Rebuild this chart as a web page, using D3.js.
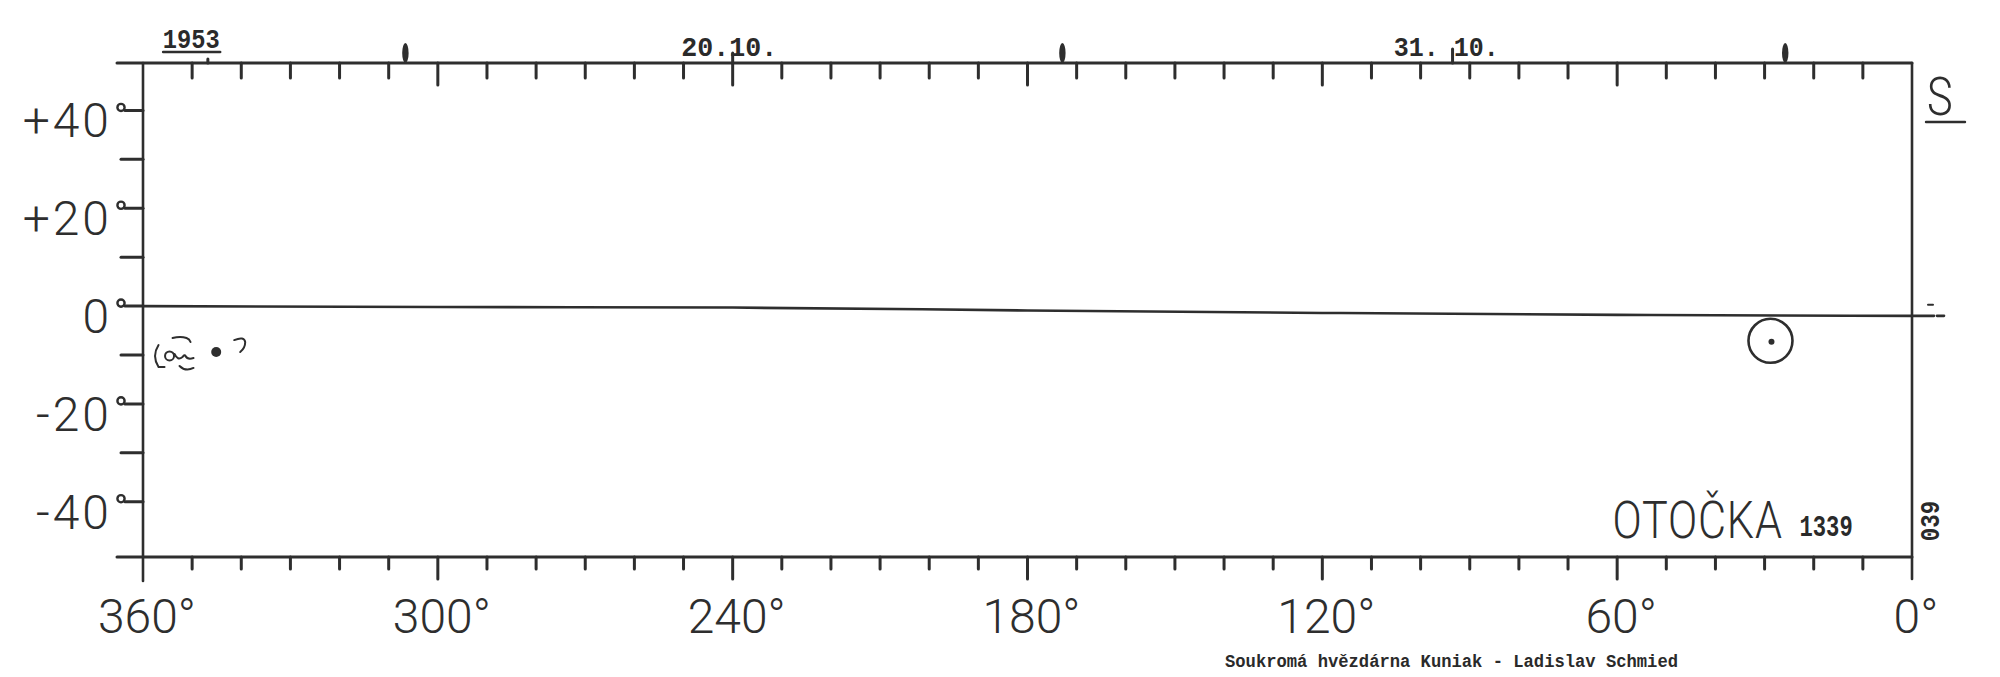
<!DOCTYPE html>
<html><head><meta charset="utf-8">
<script src="https://cdn.jsdelivr.net/npm/d3@7"></script>
<style>
html,body{margin:0;padding:0;background:#fff;}
svg{display:block;}
.thin{font-family:Roboto,"DejaVu Sans",sans-serif;font-weight:300;fill:#2e2e2e;}
.type{font-family:"Liberation Mono","DejaVu Sans Mono",monospace;font-weight:bold;fill:#2a2a2a;}
</style></head>
<body>
<script>
// ---- data ----
const lonTicks = d3.range(0, 361, 10);
const lonMajor = [360, 300, 240, 180, 120, 60, 0];
const lonLabels = ["360°", "300°", "240°", "180°", "120°", "60°", "0°"];
const latMajor = [40, 20, 0, -20, -40];
const latLabels = ["+40", "+20", "0", "-20", "-40"];
const latMinor = [30, 10, -10, -30];
const eclipticLon = [360, 300, 240, 180, 120, 60, 0];
const eclipticLat = [0, -0.2, -0.3, -0.9, -1.4, -1.8, -2.0];
const dateText = ["1953", "20.10.", "31. 10."];
const dateLon = [350.2, 240.7, 94.8];
const dateMarkLon = [346.8, 240, 93.5];
const heavyMarkLon = [306.6, 172.9, 25.8];
const objectLon = [28.8];
const objectLat = [-7.1];
const scribbleLon = [354.6, 345.1];
const scribbleLat = [-10.2, -9.4];
const titleText = "OTOČKA";
const titleNumber = "1339";
const sheetNumber = "039";
const sideLetter = "S";
const footerText = "Soukromá hvězdárna Kuniak - Ladislav Schmied";

// ---- layout ----
const W = 2000, H = 677;
const ink = "#2e2e2e";
const x = d3.scaleLinear().domain([360, 0]).range([143, 1912]);
const y = d3.scaleLinear().domain([49.7, -51.3]).range([63, 557]);
const yTop = y.range()[0], yBot = y.range()[1];
const xLeft = x.range()[0], xRight = x.range()[1];

const svg = d3.select("body").append("svg").attr("width", W).attr("height", H);
svg.append("rect").attr("width", W).attr("height", H).attr("fill", "#fff");
const g = svg.append("g").attr("stroke-linecap", "round");

// frame
g.append("line").attr("x1", xLeft - 26).attr("x2", xRight).attr("y1", yTop).attr("y2", yTop)
  .attr("stroke", ink).attr("stroke-width", 3);
g.append("line").attr("x1", xLeft - 26).attr("x2", xRight).attr("y1", yBot).attr("y2", yBot)
  .attr("stroke", ink).attr("stroke-width", 3);
g.append("line").attr("x1", xLeft).attr("x2", xLeft).attr("y1", yTop).attr("y2", yBot + 24)
  .attr("stroke", ink).attr("stroke-width", 2.6);
g.append("line").attr("x1", xRight).attr("x2", xRight).attr("y1", yTop).attr("y2", yBot + 22)
  .attr("stroke", ink).attr("stroke-width", 2.6);

// top & bottom ticks
const inner = lonTicks.filter(d => d > 0 && d < 360);
const isMajor = d => d % 60 === 0;
g.selectAll(".tt").data(inner).join("line")
  .attr("x1", d => x(d)).attr("x2", d => x(d))
  .attr("y1", yTop).attr("y2", d => yTop + (isMajor(d) ? 22 : 15))
  .attr("stroke", ink).attr("stroke-width", 3);
g.selectAll(".bt").data(inner).join("line")
  .attr("x1", d => x(d)).attr("x2", d => x(d))
  .attr("y1", yBot).attr("y2", d => yBot + (isMajor(d) ? 22 : 12))
  .attr("stroke", ink).attr("stroke-width", 3);

// bottom labels
g.selectAll(".bl").data(lonMajor).join("text").attr("class", "thin")
  .attr("x", (d) => x(d) + 4).attr("y", yBot + 76)
  .attr("text-anchor", "middle").attr("font-size", 48)
  .text((d, i) => lonLabels[i]);

// left axis ticks & labels
g.selectAll(".lm").data(latMinor).join("line")
  .attr("x1", xLeft - 22).attr("x2", xLeft).attr("y1", d => y(d)).attr("y2", d => y(d))
  .attr("stroke", ink).attr("stroke-width", 3);
g.selectAll(".lM").data(latMajor).join("line")
  .attr("x1", xLeft - 18).attr("x2", xLeft).attr("y1", d => y(d)).attr("y2", d => y(d))
  .attr("stroke", ink).attr("stroke-width", 3);
g.selectAll(".ldeg").data(latMajor).join("circle")
  .attr("cx", xLeft - 22).attr("cy", d => y(d) - 3).attr("r", 3.6)
  .attr("fill", "none").attr("stroke", ink).attr("stroke-width", 2.4);
g.selectAll(".ll").data(latMajor).join("text").attr("class", "thin")
  .attr("x", xLeft - 31).attr("y", d => y(d) + 27)
  .attr("text-anchor", "end").attr("font-size", 48).attr("letter-spacing", 3)
  .text((d, i) => latLabels[i]);

// ecliptic line
const line = d3.line().x((d, i) => x(eclipticLon[i])).y((d, i) => y(eclipticLat[i])).curve(d3.curveMonotoneX);
g.append("path").datum(eclipticLon).attr("d", line)
  .attr("fill", "none").attr("stroke", ink).attr("stroke-width", 2.6);
const eEnd = y(eclipticLat[eclipticLat.length - 1]);
g.append("line").attr("x1", xRight).attr("x2", xRight + 22).attr("y1", eEnd).attr("y2", eEnd)
  .attr("stroke", ink).attr("stroke-width", 2.6);
g.append("line").attr("x1", xRight + 25).attr("x2", xRight + 32).attr("y1", eEnd).attr("y2", eEnd)
  .attr("stroke", ink).attr("stroke-width", 2.6);
g.append("line").attr("x1", xRight + 16).attr("x2", xRight + 21).attr("y1", eEnd - 11).attr("y2", eEnd - 11)
  .attr("stroke", ink).attr("stroke-width", 2);

// top date labels and marks
g.selectAll(".dt").data(dateLon).join("text").attr("class", "type")
  .attr("x", d => x(d)).attr("y", (d, i) => i === 0 ? yTop - 15 : yTop - 7)
  .attr("text-anchor", "middle").attr("font-size", 28)
  .attr("textLength", (d, i) => [57, 96, 105][i]).attr("lengthAdjust", "spacingAndGlyphs")
  .text((d, i) => dateText[i]);
g.append("line").attr("x1", x(dateLon[0]) - 28).attr("x2", x(dateLon[0]) + 29)
  .attr("y1", yTop - 11).attr("y2", yTop - 11).attr("stroke", ink).attr("stroke-width", 2.6);
g.selectAll(".dm").data(dateMarkLon).join("line")
  .attr("x1", d => x(d)).attr("x2", d => x(d))
  .attr("y1", (d, i) => yTop - [4, 10, 14][i]).attr("y2", yTop)
  .attr("stroke", ink).attr("stroke-width", 3);
g.selectAll(".hm").data(heavyMarkLon).join("ellipse")
  .attr("cx", d => x(d)).attr("cy", yTop - 10).attr("rx", 3.2).attr("ry", 10)
  .attr("fill", ink);

// object marker
g.selectAll(".obj").data(objectLon).join("circle")
  .attr("cx", d => x(d)).attr("cy", (d, i) => y(objectLat[i])).attr("r", 22)
  .attr("fill", "none").attr("stroke", ink).attr("stroke-width", 2.6);
g.selectAll(".objd").data(objectLon).join("circle")
  .attr("cx", d => x(d) + 1).attr("cy", (d, i) => y(objectLat[i]) + 1).attr("r", 3)
  .attr("fill", ink);

// hand scribble near left edge
const s0 = [x(scribbleLon[0]), y(scribbleLat[0])];
const s1 = [x(scribbleLon[1]), y(scribbleLat[1])];
const sc = g.append("g").attr("fill", "none").attr("stroke", ink).attr("stroke-width", 2);
sc.append("path").attr("d", `M${s0[0]-11},${s0[1]-11} Q${s0[0]-18},${s0[1]} ${s0[0]-11},${s0[1]+11} L${s0[0]-5},${s0[1]+11}`);
sc.append("circle").attr("cx", s0[0]).attr("cy", s0[1]).attr("r", 4.5);
sc.append("path").attr("d", `M${s0[0]+5},${s0[1]-2} q3,7 8,3 q2,-3 3,-1 q2,4 8,2`);
sc.append("path").attr("d", `M${s0[0]+3},${s0[1]-18} q8,-2 14,0 q3,1 4,4`);
sc.append("path").attr("d", `M${s0[0]+10},${s0[1]+10} q6,6 14,2`);
sc.append("path").attr("d", `M${s1[0]+18},${s1[1]-12} q10,-4 11,2 q0,6 -5,10`);
g.append("circle").attr("cx", s1[0]).attr("cy", s1[1]).attr("r", 5).attr("fill", ink);

// titles
g.append("text").attr("class", "thin")
  .attr("transform", `translate(${x(objectLon[0]) - 158},${yBot - 19}) scale(0.83,1)`)
  .attr("font-size", 52).attr("letter-spacing", 1)
  .text(titleText);
g.append("text").attr("class", "type")
  .attr("transform", `translate(${x(objectLon[0]) + 29},${yBot - 21}) scale(0.74,1)`)
  .attr("font-size", 30)
  .text(titleNumber);
g.append("text").attr("class", "type").attr("font-size", 28)
  .attr("transform", `translate(${xRight + 27},${yBot - 36}) rotate(-90) scale(0.8,1)`)
  .attr("text-anchor", "middle")
  .text(sheetNumber);
g.append("text").attr("class", "thin")
  .attr("transform", `translate(${xRight + 15},${yTop + 52}) scale(0.8,1)`)
  .attr("font-size", 54)
  .text(sideLetter);
g.append("line").attr("x1", xRight + 14).attr("x2", xRight + 53).attr("y1", yTop + 59).attr("y2", yTop + 59)
  .attr("stroke", ink).attr("stroke-width", 2.4);

// footer
svg.append("text").attr("class", "type").attr("x", 1225).attr("y", 667)
  .attr("font-size", 18).attr("textLength", 453).attr("lengthAdjust", "spacingAndGlyphs")
  .text(footerText);
</script>
</body></html>
